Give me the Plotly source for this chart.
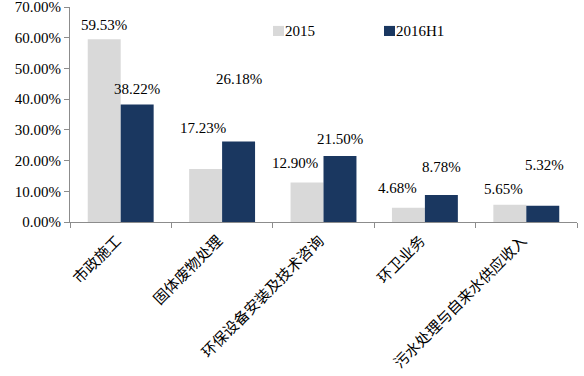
import plotly.graph_objects as go

categories = ["市政施工", "固体废物处理", "环保设备安装及技术咨询", "环卫业务", "污水处理与自来水供应收入"]
values_2015 = [59.53, 17.23, 12.90, 4.68, 5.65]
values_2016h1 = [38.22, 26.18, 21.50, 8.78, 5.32]
series_names = ["2015", "2016H1"]
y_ticks = [0, 10, 20, 30, 40, 50, 60, 70]

# label placement styling (pixel offsets from bar tops)
label_dy_2015 = [14, 41, 19, 20, 16]
label_dy_2016 = [16, 63, 17, 28, 41]
label_dx_2015 = [0, -3, -12, -11, -6]
label_dx_2016 = [0, 0, 0, 0, 2]

GRAY = "#D9D9D9"
NAVY = "#1A3760"
SERIF = "Liberation Serif, Times New Roman, serif"
BARGAP = 0.35

fig = go.Figure()
fig.add_bar(x=categories, y=[v / 100 for v in values_2015], name=series_names[0],
            marker=dict(color=GRAY, line=dict(width=0)))
fig.add_bar(x=categories, y=[v / 100 for v in values_2016h1], name=series_names[1],
            marker=dict(color=NAVY, line=dict(width=0)))

off = (1 - BARGAP) / 4
for i in range(len(categories)):
    for vals, dys, dxs, sgn in ((values_2015, label_dy_2015, label_dx_2015, -1),
                                (values_2016h1, label_dy_2016, label_dx_2016, 1)):
        fig.add_annotation(x=i + sgn * off, y=vals[i] / 100, xref="x", yref="y",
                           text=f"{vals[i]:.2f}%", showarrow=False,
                           yanchor="middle", xanchor="center",
                           yshift=dys[i], xshift=dxs[i],
                           font=dict(family=SERIF, size=15, color="#000000"))

# manual legend (square adjacent to text, as in the reference)
legend_items = [(series_names[0], GRAY, 0.4004), (series_names[1], NAVY, 0.6193)]
for name, color, lx in legend_items:
    fig.add_shape(type="rect", xref="paper", yref="paper",
                  x0=lx, x1=lx + 0.0217, y0=0.865, y1=0.912,
                  fillcolor=color, line=dict(width=0))
    fig.add_annotation(xref="paper", yref="paper", x=lx + 0.0217, y=0.889,
                       text=name, showarrow=False, xanchor="left", yanchor="middle",
                       borderpad=0, font=dict(family=SERIF, size=15, color="#000000"))

fig.update_layout(
    width=584, height=376,
    margin=dict(l=70, r=7, t=7, b=154),
    paper_bgcolor="white", plot_bgcolor="white",
    barmode="group", bargap=BARGAP, bargroupgap=0,
    showlegend=False,
    xaxis=dict(type="category", tickangle=-45, showline=True, linecolor="#8C8C8C",
               linewidth=1, ticks="outside", tickson="boundaries", ticklen=5,
               tickcolor="#8C8C8C", showgrid=False, automargin=False,
               ticklabeloverflow="allow", ticklabelstandoff=3, ticklabelshift=-4,
               tickfont=dict(family="Noto Sans CJK SC", size=15, color="#000000")),
    yaxis=dict(range=[0, 0.7], tickvals=[t / 100 for t in y_ticks], tickformat=".2%",
               showline=True, linecolor="#8C8C8C", linewidth=1, ticks="outside",
               ticklen=5, tickcolor="#8C8C8C", showgrid=False, zeroline=False,
               automargin=False, ticklabeloverflow="allow",
               tickfont=dict(family=SERIF, size=15, color="#000000")),
)

fig.write_html("out.html", config={"displayModeBar": False},
               post_script="document.body.style.margin='0';document.body.style.overflow='hidden';")
